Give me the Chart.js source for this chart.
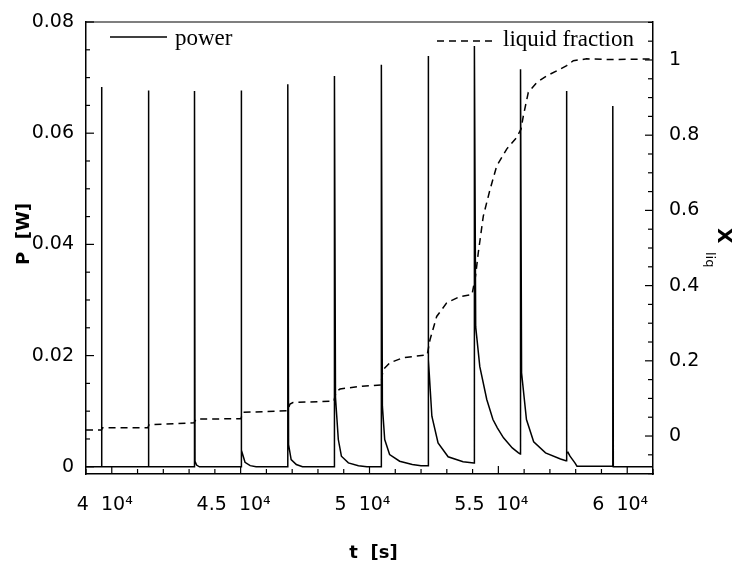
<!DOCTYPE html>
<html>
<head>
<meta charset="utf-8">
<script src="https://cdn.jsdelivr.net/npm/chart.js@4.4.1/dist/chart.umd.min.js"></script>
<style>
    html, body { margin: 0; padding: 0; background: #fff; }
</style>
</head>
<body>
<canvas id="chart_power" width="733" height="562"></canvas>
<script>
// power trace, one line per heating pulse (t in s, P in W)
const powerT = [
    39000, 39600, 39600, 39620,
    41420, 41420, 41440,
    43210, 43210, 43230, 43290, 43400,
    45020, 45020, 45040, 45170, 45370, 45600,
    46830, 46830, 46860, 46960, 47160, 47400,
    48640, 48640, 48680, 48790, 48910, 49180, 49570, 49900,
    50460, 50460, 50500, 50590, 50780, 51170, 51660, 52000,
    52270, 52270, 52300, 52420, 52660, 53050, 53630, 54050,
    54070, 54070, 54120, 54280, 54550, 54790, 54960, 55200, 55540, 55780, 55850,
    55860, 55860, 55900, 56090, 56370, 56830, 57410, 57620,
    57640, 57640, 57660, 57700, 57780, 57970, 58050,
    59440, 59440, 59460, 61000
];
const powerP = [
    0, 0, 0.0683, 0,
    0, 0.0677, 0,
    0, 0.0676, 0.0010, 0.0003, 0,
    0, 0.0677, 0.0030, 0.0008, 0.0002, 0,
    0, 0.0688, 0.0040, 0.0013, 0.0004, 0,
    0, 0.0703, 0.0125, 0.0049, 0.0019, 0.0007, 0.0002, 0,
    0, 0.0723, 0.0109, 0.0049, 0.0022, 0.0010, 0.0004, 0.0002,
    0.0002, 0.0739, 0.0193, 0.0091, 0.0043, 0.0018, 0.0009, 0.0007,
    0.0007, 0.0757, 0.0252, 0.0180, 0.0121, 0.0085, 0.0070, 0.0052, 0.0034, 0.0025, 0.0023,
    0.0023, 0.0715, 0.0169, 0.0085, 0.0045, 0.0025, 0.0014, 0.0011,
    0.0011, 0.0676, 0.0025, 0.0026, 0.0019, 0.0007, 0.0001,
    0.0001, 0.0649, 0, 0
];

// liquid fraction (right axis)
const liqT = [
    39000, 39600, 39640, 41400, 41445, 43190, 43268, 45010, 45092, 46820, 46915,
    47032, 48620, 48700, 48855, 49631, 50440, 50524, 50795, 51300, 52240, 52347,
    52607, 52995, 53511, 53977, 54113, 54222, 54416, 54675, 54935, 55323, 55711,
    55878, 55968, 56162, 56488, 56876, 57264, 57652, 57908, 58427, 59448, 61000
];
const liqX = [
    0.016, 0.016, 0.022, 0.022, 0.030, 0.035, 0.045, 0.046, 0.063, 0.067, 0.085,
    0.089, 0.093, 0.118, 0.125, 0.132, 0.136, 0.176, 0.195, 0.208, 0.216, 0.256,
    0.318, 0.354, 0.371, 0.376, 0.425, 0.488, 0.585, 0.655, 0.718, 0.763, 0.794,
    0.816, 0.851, 0.914, 0.940, 0.958, 0.971, 0.985, 0.998, 1.003, 1.001, 1.003
];

const xTicks = [40000, 45000, 50000, 55000, 60000];
const xTickLabels = ['4  10\u2074', '4.5  10\u2074', '5  10\u2074', '5.5  10\u2074', '6  10\u2074'];
const pTicks = [0, 0.02, 0.04, 0.06, 0.08];
const liqTicks = [0, 0.2, 0.4, 0.6, 0.8, 1];

const tickFont = { family: 'DejaVu Sans', size: 19 };
const serif = 'Liberation Serif';

// inward tick marks, frame top, legend and axis titles
const decorations = {
    id: 'decorations',
    afterDraw(chart) {
        const ctx = chart.ctx;
        const a = chart.chartArea;
        const sx = chart.scales.x, sy = chart.scales.y, sy1 = chart.scales.y1;
        ctx.save();
        ctx.strokeStyle = '#000';
        ctx.fillStyle = '#000';
        ctx.lineWidth = 1.2;
        const seg = (x1, y1, x2, y2) => {
            ctx.beginPath();
            ctx.moveTo(x1, y1);
            ctx.lineTo(x2, y2);
            ctx.stroke();
        };
        seg(a.left, a.top, a.right, a.top);

        for (let i = 0; i <= 16; i++) {
            const y = sy.getPixelForValue(i * 0.005);
            seg(a.left, y, a.left + (i % 4 === 0 ? 8 : 4), y);
        }
        for (let i = -2; i <= 22; i++) {
            const y = sy1.getPixelForValue(i * 0.05);
            seg(a.right, y, a.right - (i % 4 === 0 ? 8 : 5), y);
        }
        for (let i = 39; i <= 61; i++) {
            const x = sx.getPixelForValue(i * 1000);
            seg(x, a.bottom, x, a.bottom - (i % 5 === 0 ? 8 : 5));
        }

        // legend
        ctx.lineWidth = 1.5;
        seg(a.left + 24, 37, a.left + 81, 37);
        ctx.setLineDash([7, 5]);
        seg(a.left + 351, 41, a.left + 411, 41);
        ctx.setLineDash([]);
        ctx.font = '23px "' + serif + '"';
        ctx.textBaseline = 'alphabetic';
        ctx.textAlign = 'left';
        ctx.fillText('power', a.left + 89, 45);
        ctx.fillText('liquid fraction', a.left + 417, 46);

        // axis titles
        ctx.font = 'bold 18px "DejaVu Sans"';
        ctx.textAlign = 'center';
        ctx.fillText('t  [s]', (a.left + a.right) / 2 + 4, 558);

        ctx.save();
        ctx.translate(29, (a.top + a.bottom) / 2 - 14);
        ctx.rotate(-Math.PI / 2);
        ctx.fillText('P  [W]', 0, 0);
        ctx.restore();

        ctx.save();
        ctx.translate(718, 228);
        ctx.rotate(Math.PI / 2);
        ctx.textAlign = 'left';
        ctx.font = 'bold 20px "DejaVu Sans"';
        ctx.fillText('X', 0, 0);
        ctx.font = '13px "DejaVu Sans"';
        ctx.fillText('liq', 24, 12);
        ctx.restore();

        ctx.restore();
    }
};

const ctx = document.getElementById('chart_power');

new Chart(ctx, {
    type: 'line',
    data: {
        datasets: [{
            label: 'power',
            data: powerT.map((t, i) => ({ x: t, y: powerP[i] })),
            borderColor: '#000',
            borderWidth: 1.5,
            pointRadius: 0,
            tension: 0,
            yAxisID: 'y'
        }, {
            label: 'liquid fraction',
            data: liqT.map((t, i) => ({ x: t, y: liqX[i] })),
            borderColor: '#000',
            borderWidth: 1.5,
            borderDash: [7, 5],
            pointRadius: 0,
            tension: 0,
            yAxisID: 'y1'
        }]
    },
    options: {
        responsive: false,
        animation: false,
        layout: { padding: { top: 22, left: 0, right: 0, bottom: 0 } },
        plugins: {
            legend: { display: false },
            tooltip: { enabled: false }
        },
        scales: {
            x: {
                type: 'linear',
                position: 'bottom',
                min: 39000,
                max: 61000,
                afterBuildTicks: s => { s.ticks = xTicks.map(v => ({ value: v })); },
                afterFit: s => { s.height = 88; },
                grid: { display: false },
                border: { display: true, color: '#000', width: 1.5 },
                ticks: {
                    font: tickFont,
                    color: '#000',
                    padding: 12,
                    labelOffset: -7,
                    maxRotation: 0,
                    autoSkip: false,
                    callback: (v, i) => xTickLabels[i]
                }
            },
            y: {
                position: 'left',
                min: -0.0013,
                max: 0.08,
                afterBuildTicks: s => { s.ticks = pTicks.map(v => ({ value: v })); },
                afterFit: s => { s.width = 86; },
                grid: { display: false },
                border: { display: true, color: '#000', width: 1.5 },
                ticks: {
                    font: tickFont,
                    color: '#000',
                    padding: 4,
                    callback: v => String(v)
                }
            },
            y1: {
                position: 'right',
                min: -0.101,
                max: 1.101,
                afterBuildTicks: s => { s.ticks = liqTicks.map(v => ({ value: v })); },
                afterFit: s => { s.width = 80; },
                grid: { display: false },
                border: { display: true, color: '#000', width: 1.5 },
                ticks: {
                    font: tickFont,
                    color: '#000',
                    padding: 8,
                    callback: v => String(v)
                }
            }
        }
    },
    plugins: [decorations]
});
</script>
</body>
</html>
